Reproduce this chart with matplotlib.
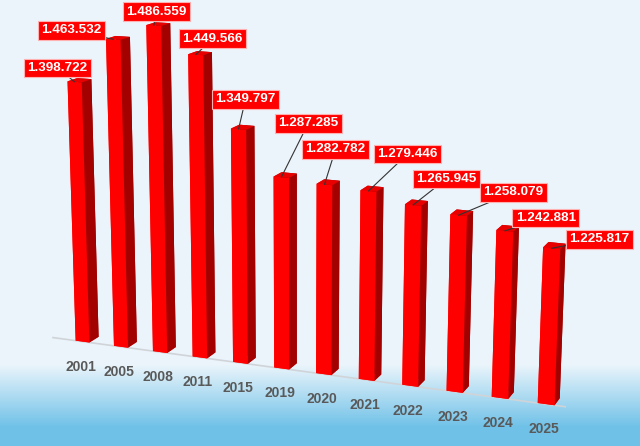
import numpy as np
import matplotlib.pyplot as plt
from mpl_toolkits.mplot3d import proj3d

# data
years = ['2001', '2005', '2008', '2011', '2015', '2019', '2020', '2021',
         '2022', '2023', '2024', '2025']
values = [1398722, 1463532, 1486559, 1449566, 1349797, 1287285, 1282782,
          1279446, 1265945, 1258079, 1242881, 1225817]
value_labels = ['1.398.722', '1.463.532', '1.486.559', '1.449.566', '1.349.797',
                '1.287.285', '1.282.782', '1.279.446', '1.265.945', '1.258.079',
                '1.242.881', '1.225.817']

# label box offsets from bar top (pixels)
label_dx = [-17, -42, 3, 17, 7, 27, 11, 39, 33, 55, 41, 48]
label_dy = [14, 9, 14, 16, 30, 54, 35, 37, 26, 23, 13, 9]

zmin = 1.01e6
zmax = 1.5e6
dx = 0.36
dy = 0.45

fig = plt.figure(figsize=(6.4, 4.46), dpi=100)

# background gradient
bg = fig.add_axes([0, 0, 1, 1])
grad = np.ones((446, 1, 3))
top = np.array([0.925, 0.96, 0.985])
bot = np.array([0.44, 0.76, 0.91])
for i in range(446):
    t = np.clip((i - 364) / 62.0, 0, 1)
    grad[i, 0] = top * (1 - t) + bot * t
bg.imshow(grad, aspect='auto', extent=[0, 1, 0, 1], origin='upper')
bg.set_axis_off()

ax = fig.add_axes([-0.168, -0.086, 1.24, 1.24], projection='3d')
ax.patch.set_alpha(0)
ax.set_proj_type('persp', focal_length=0.6)
ax.view_init(elev=14, azim=-68)
ax.set_box_aspect((12, 1.2, 7.7), zoom=1.16)
ax.set_xlim(-0.5, 11.5)
ax.set_ylim(-0.5, 0.7)
ax.set_zlim(zmin, zmax)
ax.set_axis_off()

xs = np.arange(len(years))
face_cols = ['#ff0000', '#e80000', '#ff0000', '#a00000', '#ff0000', '#a30000']
ax.bar3d(xs, np.zeros(len(xs)), np.full(len(xs), zmin), dx, dy,
         np.array(values) - zmin, color=face_cols * len(xs), shade=False,
         edgecolor='none')

# floor line
ax.plot([-0.6, 11.7], [0, 0], [zmin, zmin], color='#d0d4d8', lw=1.2)

M = ax.get_proj()
for i, x in enumerate(xs):
    # year label under the bar
    bx, by, _ = proj3d.proj_transform(x + dx / 2, 0, zmin, M)
    ax.annotate(years[i], xy=(bx, by), xytext=(-2, -18), textcoords='offset pixels',
                ha='center', va='top', fontsize=10, fontweight='bold',
                color='#595959', family=['Liberation Sans', 'DejaVu Sans'])
    # value label
    tx, ty, _ = proj3d.proj_transform(x + dx / 2, 0, values[i], M)
    ax.annotate(value_labels[i], xy=(tx, ty),
                xytext=(label_dx[i], label_dy[i]), textcoords='offset pixels',
                ha='center', va='center', fontsize=9.7, fontweight='bold',
                color='white', family=['Liberation Sans', 'DejaVu Sans'],
                bbox=dict(boxstyle='square,pad=0.25', fc='#ff0000', ec='#ffb0b0', lw=0.8),
                arrowprops=dict(arrowstyle='-', color='#333333', lw=0.8,
                                shrinkA=0, shrinkB=0))

plt.savefig('out.png', dpi=100)
